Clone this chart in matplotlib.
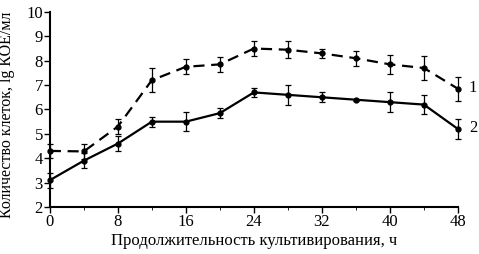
import matplotlib.pyplot as plt

plt.rcParams['font.family'] = ['Liberation Serif', 'DejaVu Serif']

hours = [0, 4, 8, 12, 16, 20, 24, 28, 32, 36, 40, 44, 48]
curve1 = [4.3, 4.28, 5.3, 7.2, 7.75, 7.85, 8.5, 8.45, 8.3, 8.1, 7.85, 7.7, 6.85]
err1 = [0.3, 0.3, 0.3, 0.5, 0.3, 0.3, 0.3, 0.35, 0.2, 0.3, 0.4, 0.5, 0.5]
curve2 = [3.1, 3.9, 4.6, 5.5, 5.5, 5.85, 6.7, 6.6, 6.5, 6.4, 6.3, 6.2, 5.2]
err2 = [0.3, 0.3, 0.3, 0.2, 0.4, 0.2, 0.2, 0.4, 0.2, 0.05, 0.4, 0.4, 0.4]

fig = plt.figure(figsize=(4.79, 2.54), dpi=100)
ax = fig.add_axes([0.104, 0.185, 0.852, 0.768])

for y, e, ls in [(curve1, err1, (0, (5, 3))), (curve2, err2, '-')]:
    lines = ax.errorbar(hours, y, yerr=e, color='black', lw=1.6, ls=ls,
                        marker='o', ms=3.5, capsize=2.5, elinewidth=0.9,
                        capthick=0.9)
    for art in lines.get_children():
        art.set_clip_on(False)

ax.text(49.3, curve1[-1] + 0.05, '1', fontsize=12, va='center')
ax.text(49.3, curve2[-1] + 0.05, '2', fontsize=12, va='center')

ax.set_xlim(0, 48)
ax.set_ylim(2, 10)
ax.set_xticks(range(0, 49, 8))
ax.set_xticks(range(0, 49, 4), minor=True)
ax.set_yticks(range(2, 11))
ax.spines['top'].set_visible(False)
ax.spines['right'].set_visible(False)
ax.spines['left'].set_linewidth(1.5)
ax.spines['bottom'].set_linewidth(1.5)
ax.tick_params(labelsize=12, width=1, length=4, pad=1)
ax.tick_params(which='minor', length=2)
ax.set_xlabel('Продолжительность культивирования, ч', fontsize=12, labelpad=2)
ax.set_ylabel('Количество клеток, lg КОЕ/мл', fontsize=11.5, labelpad=1)
ax.yaxis.set_label_coords(-0.085, 0.475)
ax.patch.set_visible(False)

fig.savefig('out.png', dpi=100)
